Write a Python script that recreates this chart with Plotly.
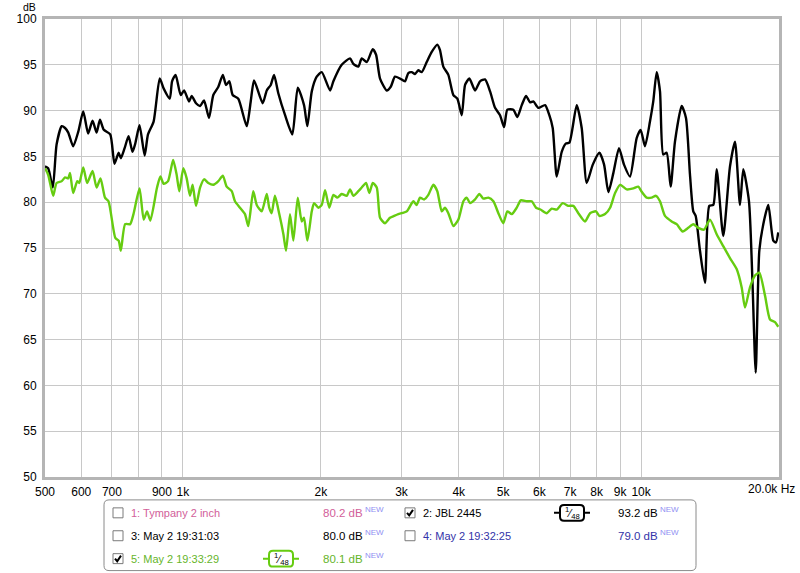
import plotly.graph_objects as go

# ---------------- data ----------------
freq_black = [500, 508, 520, 530, 544, 553, 562, 576, 591, 606, 621, 635, 648, 659, 672, 694, 709, 724, 732, 746,
              761, 776, 787, 804, 825, 839, 863, 890, 908, 936, 947, 964, 989, 1006, 1031, 1045, 1068, 1090, 1112, 1140,
              1165, 1195, 1222, 1242, 1263, 1284, 1321, 1378, 1406, 1430, 1493, 1524, 1555, 1581, 1615, 1671, 1733, 1781,
              1838, 1869, 1911, 1959, 2009, 2095, 2130, 2221, 2316, 2355, 2415, 2456, 2519, 2596, 2640, 2693, 2785, 2842,
              2903, 2978, 3053, 3104, 3158, 3210, 3264, 3321, 3405, 3492, 3591, 3640, 3701, 3796, 3893, 3972, 4061, 4129,
              4219, 4342, 4452, 4565, 4682, 4800, 4922, 5023, 5107, 5263, 5370, 5490, 5610, 5723, 5819, 5967, 6171, 6306,
              6414, 6545, 6711, 6848, 6974, 7236, 7420, 7609, 7845, 8110, 8303, 8484, 8701, 8950, 9178, 9459, 9781, 9980,
              10198, 10457, 10632, 10815, 10997, 11180, 11372, 11603, 11856, 12264, 12532, 12786, 12999, 13157, 13445,
              13787, 14088, 14374, 14622, 15114, 15633, 16031, 16439, 16714, 17199, 17490, 17790, 18116, 18482, 18952,
              19436, 19700, 19926]
db_black = [83.9, 83.7, 81.6, 86.3, 88.3, 88.1, 87.6, 86.1, 87.7, 89.9, 87.5, 88.9, 87.6, 89.0, 87.9, 87.4, 84.2, 85.4, 84.8, 85.9,
            87.2, 85.5, 86.4, 88.4, 85.1, 87.4, 88.8, 93.5, 92.4, 91.3, 93.2, 93.9, 91.7, 92.2, 91.0, 91.6, 90.8, 90.5, 91.1, 89.2,
            91.7, 92.6, 93.9, 92.8, 93.2, 91.7, 91.3, 88.3, 91.0, 93.3, 90.8, 92.2, 92.8, 93.9, 91.9, 89.5, 87.4, 92.5,
            90.6, 88.3, 92.1, 93.7, 94.2, 92.2, 93.2, 95.0, 95.7, 95.1, 94.8, 95.7, 95.3, 96.7, 96.1, 93.5, 92.2, 92.6,
            93.7, 93.5, 93.2, 94.1, 94.2, 94.0, 94.4, 94.2, 95.3, 96.4, 97.2, 96.6, 94.8, 93.9, 91.7, 91.3, 89.5, 92.8,
            93.5, 92.2, 93.2, 93.4, 92.1, 90.3, 89.5, 88.2, 90.1, 90.1, 89.3, 90.6, 91.6, 90.9, 91.0, 90.3, 90.6, 89.5,
            88.1, 82.8, 85.5, 86.4, 86.5, 90.6, 88.1, 82.1, 84.1, 85.4, 84.1, 81.1, 83.2, 85.9, 84.1, 82.8, 87.0, 87.9,
            86.1, 88.8, 91.0, 94.2, 92.1, 85.2, 85.4, 81.7, 86.6, 90.5, 89.2, 83.0, 79.0, 78.5, 74.7,
            71.2, 79.6, 79.7, 83.6, 76.3, 83.9, 86.6, 79.7, 83.6, 80.1, 71.8, 61.4, 74.7, 77.6, 79.7,
            75.8, 75.6, 76.7]

freq_green = [500, 508, 521, 530, 544, 553, 562, 567, 576, 588, 594, 606, 618, 635, 648, 661, 676, 688, 712, 724,
              732, 748, 767, 780, 804, 821, 835, 849, 878, 893, 908, 928, 952, 969, 982, 1002, 1019, 1036, 1050, 1068,
              1090, 1112, 1136, 1165, 1195, 1222, 1246, 1278, 1299, 1332, 1366, 1389, 1424, 1449, 1486, 1524, 1543, 1562,
              1588, 1623, 1657, 1679, 1713, 1742, 1781, 1817, 1838, 1869, 1911, 1933, 1975, 2009, 2043, 2087, 2130, 2173,
              2221, 2278, 2316, 2355, 2415, 2456, 2510, 2552, 2596, 2649, 2693, 2761, 2831, 2889, 2952, 3080, 3183, 3238,
              3292, 3359, 3433, 3520, 3591, 3672, 3733, 3796, 3893, 3992, 4094, 4164, 4234, 4342, 4436, 4526, 4641, 4760,
              4881, 5002, 5107, 5221, 5353, 5462, 5630, 5772, 5898, 6030, 6224, 6382, 6545, 6745, 6937, 7113, 7295, 7545,
              7739, 7970, 8110, 8345, 8558, 8775, 8998, 9303, 9617, 9860, 10014, 10285, 10547, 10778, 10997, 11276, 11663,
              11959, 12325, 12677, 12999, 13331, 13717, 14138, 14622, 15114, 15633, 16167, 16580, 16860, 17286, 17728,
              18116, 18642, 19116, 19602, 19926]
db_green = [83.7, 83.0, 80.7, 82.1, 82.3, 82.7, 82.6, 83.2, 81.0, 82.3, 82.1, 83.8, 82.1, 83.4, 81.6, 82.6, 80.5, 80.1, 76.1, 75.8,
            74.7, 77.6, 77.6, 78.7, 81.5, 78.1, 79.0, 78.0, 81.6, 82.8, 82.0, 82.3, 84.6, 83.0, 81.2, 83.7, 82.6, 80.7, 81.9, 79.6,
            81.6, 82.5, 82.1, 81.9, 82.3, 82.9, 81.7, 81.2, 80.1, 79.4, 78.7, 77.4, 81.2, 79.7, 79.0, 80.9, 79.4, 78.8,
            80.7, 78.7, 76.5, 74.7, 78.7, 75.8, 80.5, 77.9, 78.3, 75.8, 79.0, 79.9, 79.4, 79.7, 81.3, 79.4, 80.8, 80.5,
            80.9, 80.7, 81.4, 80.7, 81.2, 81.6, 82.1, 81.0, 82.1, 81.6, 78.3, 77.7, 78.3, 78.5, 78.7, 79.0, 80.1, 79.7,
            80.5, 80.3, 80.8, 81.9, 81.2, 79.0, 79.4, 78.8, 77.4, 78.1, 80.1, 80.5, 79.9, 80.3, 80.9, 80.4, 80.5, 80.1,
            78.8, 77.7, 79.0, 78.7, 79.4, 80.2, 80.1, 80.1, 79.4, 79.2, 78.8, 79.3, 79.2, 79.9, 79.6, 79.6, 78.8, 77.9,
            78.8, 79.0, 78.5, 78.7, 79.4, 81.0, 81.9, 81.4, 81.5, 81.7, 81.2, 80.5, 80.5, 80.7, 80.1, 78.5, 77.9,
            77.6, 76.8, 77.2, 77.6, 77.2, 77.0, 78.1, 76.5, 75.2, 73.9, 72.7, 70.7, 68.5, 70.7, 72.0,
            72.3, 69.8, 67.2, 66.9, 66.4]

x_tick_vals = [500, 600, 700, 900, 1000, 2000, 3000, 4000, 5000, 6000, 7000, 8000, 9000, 10000]
x_tick_text = ["500", "600", "700", "900", "1k", "2k", "3k", "4k", "5k", "6k", "7k", "8k", "9k", "10k"]
x_extra_grid = [800]  # grid line without a label
y_tick_vals = [50, 55, 60, 65, 70, 75, 80, 85, 90, 95, 100]

legend_names = ["1: Tympany 2 inch", "2: JBL 2445", "3: May 2 19:31:03", "4: May 2 19:32:25", "5: May 2 19:33:29"]
legend_levels = ["80.2 dB", "93.2 dB", "80.0 dB", "79.0 dB", "80.1 dB"]
legend_checked = [False, True, False, False, True]
legend_smoothing = ["", "1/48", "", "", "1/48"]
legend_colors = ["#d2609a", "#000000", "#000000", "#3333a8", "#66b52a"]

# ---------------- layout helpers (pixel -> paper) ----------------
W, H = 800, 573
L, R, T, B = 45, 779, 17, 477


def px(x):
    return (x - L) / (R - L)


def py(y):
    return (B - y) / (B - T)


FONT = "Liberation Sans, Arial, sans-serif"
GREEN_LINE = "#66cc11"
GRID = "#c8c8c8"

fig = go.Figure()
fig.add_trace(go.Scatter(x=freq_black, y=db_black, mode="lines",
                         line=dict(color="#000000", width=2.4, shape="spline", smoothing=0.6),
                         name=legend_names[1], showlegend=False, hoverinfo="x+y"))
fig.add_trace(go.Scatter(x=freq_green, y=db_green, mode="lines",
                         line=dict(color=GREEN_LINE, width=2.4, shape="spline", smoothing=0.6),
                         name=legend_names[4], showlegend=False, hoverinfo="x+y"))

shapes = []
annotations = []

# axis unit labels
annotations.append(dict(text="dB", x=px(29), y=py(5), xref="paper", yref="paper", showarrow=False,
                        xanchor="center", yanchor="middle", font=dict(family=FONT, size=10.5, color="#000")))
annotations.append(dict(text="20.0k Hz", x=px(797), y=py(489), xref="paper", yref="paper", showarrow=False,
                        xanchor="right", yanchor="middle", font=dict(family=FONT, size=12, color="#000")))


def rounded_rect(x0, y0, x1, y1, r):
    X0, X1 = px(x0), px(x1)
    Y0, Y1 = py(y0), py(y1)
    rx = r / (R - L)
    ry = r / (B - T)
    return (f"M {X0+rx},{Y0} L {X1-rx},{Y0} Q {X1},{Y0} {X1},{Y0-ry} "
            f"L {X1},{Y1+ry} Q {X1},{Y1} {X1-rx},{Y1} L {X0+rx},{Y1} "
            f"Q {X0},{Y1} {X0},{Y1+ry} L {X0},{Y0-ry} Q {X0},{Y0} {X0+rx},{Y0} Z")


# legend frame
shapes.append(dict(type="path", xref="paper", yref="paper", path=rounded_rect(104, 500, 696, 571, 5),
                   line=dict(color="#8a8a8a", width=1), fillcolor="rgba(0,0,0,0)"))

col_box = [113, 405]
col_name = [129, 421]
col_sym = [281, 572]
col_level = [365, 660]
row_y = [513, 536, 559]

for i, name in enumerate(legend_names):
    c = i % 2
    r = i // 2
    yc = row_y[r]
    color = legend_colors[i]
    sym_color = GREEN_LINE if i == 4 else color
    # checkbox
    bx = col_box[c]
    shapes.append(dict(type="rect", xref="paper", yref="paper",
                       x0=px(bx), x1=px(bx + 10), y0=py(yc - 5), y1=py(yc + 5),
                       line=dict(color="#7a7a7a", width=1), fillcolor="#ffffff"))
    if legend_checked[i]:
        shapes.append(dict(type="path", xref="paper", yref="paper",
                           path=f"M {px(bx+2)},{py(yc)} L {px(bx+4.2)},{py(yc+2.6)} L {px(bx+8)},{py(yc-3)}",
                           line=dict(color="#000000", width=2)))
    # name
    annotations.append(dict(text=name, x=px(col_name[c]), y=py(yc), xref="paper", yref="paper",
                            showarrow=False, xanchor="left", yanchor="middle",
                            font=dict(family=FONT, size=11, color=color)))
    # level + NEW
    annotations.append(dict(text=legend_levels[i], x=px(col_level[c]), y=py(yc), xref="paper", yref="paper",
                            showarrow=False, xanchor="right", yanchor="middle",
                            font=dict(family=FONT, size=11.5, color=color)))
    annotations.append(dict(text="NEW", x=px(col_level[c] - 2), y=py(yc - 3), xref="paper", yref="paper",
                            showarrow=False, xanchor="left", yanchor="middle",
                            font=dict(family=FONT, size=8, color="#8f8ff2")))
    # smoothing symbol
    if legend_smoothing[i]:
        sc = col_sym[c]
        shapes.append(dict(type="line", xref="paper", yref="paper",
                           x0=px(sc - 18), x1=px(sc + 18), y0=py(yc), y1=py(yc),
                           line=dict(color=sym_color, width=2)))
        shapes.append(dict(type="path", xref="paper", yref="paper",
                           path=rounded_rect(sc - 12, yc - 8, sc + 12, yc + 8, 4),
                           line=dict(color=sym_color, width=2), fillcolor="#ffffff"))
        num, den = legend_smoothing[i].split("/")
        annotations.append(dict(text=f"<sup>{num}</sup>⁄<sub>{den}</sub>", x=px(sc), y=py(yc),
                                xref="paper", yref="paper", showarrow=False, xanchor="center",
                                yanchor="middle", font=dict(family=FONT, size=11, color="#000")))

fig.update_layout(
    width=W, height=H,
    margin=dict(l=L, r=W - R, t=T, b=H - B),
    paper_bgcolor="#ffffff", plot_bgcolor="#ffffff",
    showlegend=False,
    shapes=shapes, annotations=annotations,
    xaxis=dict(type="log", range=[2.69897, 4.30103], tickvals=x_tick_vals, ticktext=x_tick_text,
               showgrid=True, gridcolor=GRID, gridwidth=1.2, zeroline=False,
               minor=dict(tickvals=x_extra_grid, showgrid=True, gridcolor=GRID, gridwidth=1.2, ticks=""),
               showline=True, linecolor="#b5b5b5", linewidth=3, mirror=True,
               ticks="", ticklabelstandoff=2, tickfont=dict(family=FONT, size=12, color="#000")),
    yaxis=dict(range=[50, 100], tickvals=y_tick_vals,
               showgrid=True, gridcolor=GRID, gridwidth=1.2, zeroline=False,
               showline=True, linecolor="#b5b5b5", linewidth=3, mirror=True,
               ticks="", ticklabelstandoff=3, tickfont=dict(family=FONT, size=12, color="#000")),
)

fig.write_html("out.html", config={"displayModeBar": False},
               post_script="document.body.style.margin='0';document.body.style.padding='0';"
                           "document.documentElement.style.overflow='hidden';")
